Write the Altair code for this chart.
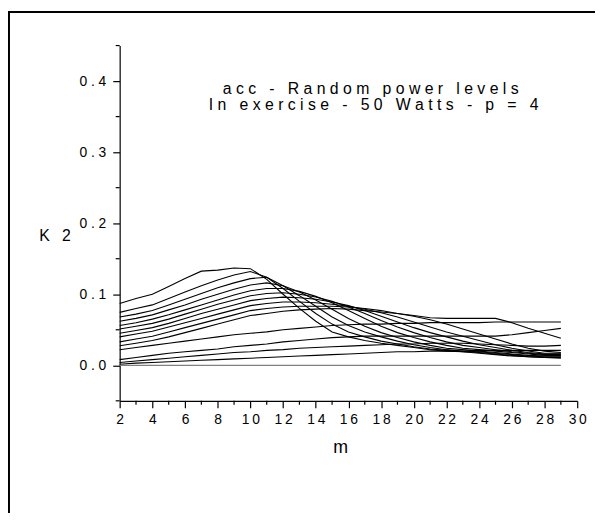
import altair as alt
import pandas as pd

m_values = list(range(2, 30))

U1 = [0.087,0.094,0.100,0.111,0.122,0.1325,0.134,0.137,0.136,0.121,0.100,0.080,0.062,0.047,0.040,0.035,0.031,0.028,0.025,0.022,0.020,0.019,0.017,0.015,0.013,0.012,0.011,0.010]
U2 = [0.0745,0.080,0.085,0.094,0.103,0.112,0.120,0.127,0.132,0.124,0.108,0.090,0.073,0.058,0.047,0.040,0.034,0.030,0.026,0.023,0.021,0.019,0.018,0.016,0.014,0.012,0.011,0.011]
U3 = [0.068,0.072,0.077,0.085,0.093,0.101,0.109,0.116,0.122,0.124,0.112,0.098,0.083,0.068,0.056,0.047,0.040,0.034,0.029,0.025,0.022,0.020,0.019,0.017,0.015,0.013,0.012,0.012]
U4 = [0.062,0.066,0.071,0.078,0.085,0.093,0.100,0.107,0.113,0.116,0.112,0.103,0.092,0.079,0.066,0.055,0.046,0.039,0.033,0.028,0.024,0.022,0.020,0.018,0.016,0.014,0.013,0.013]
U5 = [0.056,0.060,0.065,0.071,0.078,0.085,0.092,0.099,0.105,0.108,0.108,0.104,0.097,0.088,0.077,0.066,0.055,0.046,0.039,0.033,0.028,0.024,0.022,0.020,0.018,0.016,0.014,0.014]
U6 = [0.051,0.055,0.059,0.065,0.072,0.079,0.086,0.092,0.098,0.101,0.102,0.100,0.096,0.090,0.082,0.073,0.063,0.054,0.046,0.039,0.033,0.028,0.025,0.022,0.019,0.017,0.015,0.015]
U7 = [0.045,0.049,0.053,0.059,0.066,0.073,0.079,0.085,0.091,0.094,0.096,0.095,0.093,0.089,0.084,0.077,0.069,0.061,0.053,0.046,0.040,0.034,0.029,0.025,0.021,0.018,0.016,0.016]
U8 = [0.040,0.044,0.048,0.054,0.060,0.066,0.072,0.078,0.084,0.087,0.089,0.089,0.088,0.086,0.083,0.079,0.074,0.068,0.061,0.054,0.047,0.041,0.035,0.029,0.024,0.020,0.017,0.017]
U9 = [0.033,0.037,0.041,0.047,0.053,0.059,0.065,0.071,0.077,0.080,0.082,0.083,0.083,0.083,0.082,0.080,0.077,0.073,0.069,0.064,0.058,0.051,0.044,0.037,0.030,0.024,0.020,0.018]
U10 = [0.0275,0.031,0.035,0.040,0.046,0.052,0.058,0.064,0.070,0.073,0.076,0.078,0.079,0.080,0.079,0.077,0.075,0.073,0.070,0.067,0.066,0.066,0.066,0.066,0.060,0.052,0.045,0.038]
L1 = [0.022,0.025,0.028,0.031,0.034,0.037,0.040,0.043,0.045,0.047,0.050,0.052,0.054,0.056,0.057,0.058,0.058,0.059,0.059,0.060,0.060,0.060,0.060,0.061,0.061,0.061,0.061,0.061]
L2 = [0.008,0.011,0.014,0.017,0.019,0.021,0.023,0.026,0.028,0.030,0.033,0.035,0.037,0.039,0.040,0.041,0.041,0.041,0.041,0.041,0.041,0.041,0.041,0.041,0.043,0.046,0.049,0.052]
L3 = [0.004,0.006,0.008,0.010,0.012,0.014,0.016,0.018,0.019,0.021,0.022,0.024,0.025,0.026,0.027,0.028,0.029,0.030,0.030,0.031,0.031,0.031,0.030,0.029,0.028,0.027,0.027,0.028]
L4 = [0.0015,0.003,0.004,0.005,0.006,0.007,0.008,0.009,0.010,0.011,0.012,0.013,0.014,0.015,0.016,0.017,0.018,0.019,0.019,0.020,0.020,0.020,0.021,0.021,0.021,0.021,0.021,0.021]
Z0 = [0.0] * 28

series = {"U1": U1, "U2": U2, "U3": U3, "U4": U4, "U5": U5, "U6": U6, "U7": U7,
          "U8": U8, "U9": U9, "U10": U10, "L1": L1, "L2": L2, "L3": L3, "L4": L4}

title_lines = ["acc - Random power levels", "In exercise - 50 Watts - p = 4"]
y_major = [0.0, 0.1, 0.2, 0.3, 0.4]
y_minor = [-0.05, 0.05, 0.15, 0.25, 0.35, 0.45]
x_major = list(range(2, 31, 2))
x_minor = list(range(3, 30, 2))

rows = []
for name, vals in series.items():
    for m, v in zip(m_values, vals):
        rows.append({"series": name, "m": m, "k2": v})
df = pd.DataFrame(rows)
df_zero = pd.DataFrame({"m": m_values, "k2": Z0})

FONT = "Liberation Sans"
W, H = 463, 359.5


def spaced(s):
    return "\u00a0".join(s)


xscale = alt.Scale(domain=[2, 30], nice=False, zero=False)
yscale = alt.Scale(domain=[-0.05, 0.45], nice=False, zero=False)

x_axis = alt.Axis(
    values=x_major,
    labelExpr="length(datum.label) == 2 ? substring(datum.label, 0, 1) + '\u2009' + substring(datum.label, 1) : datum.label",
    tickSize=7, grid=False, labelOverlap=False, labelFlush=False, labelBound=False,
    labelFont=FONT, labelFontSize=14, labelColor="black", labelPadding=5,
    tickColor="black", tickWidth=1.2, domainColor="black", domainWidth=1.2,
    title="m", titleFont=FONT, titleFontSize=18, titleFontWeight="normal",
    titleColor="black", titleX=223, titleY=52, titleBaseline="alphabetic",
    titleAlign="center",
)

y_axis = alt.Axis(
    values=y_major, format=".1f",
    labelExpr="replace(datum.label, '.', ' . ')",
    tickSize=7, grid=False, labelOverlap=False, labelFlush=False, labelBound=False,
    labelFont=FONT, labelFontSize=14, labelColor="black", labelPadding=7,
    tickColor="black", tickWidth=1.2, domainColor="black", domainWidth=1.2,
    title="K\u2002\u00a02", titleFont=FONT, titleFontSize=16, titleFontWeight="normal",
    titleColor="black", titleAngle=0, titleX=-66, titleY=197,
    titleBaseline="alphabetic", titleAlign="center",
)

lines = alt.Chart(df).mark_line(color="black", strokeWidth=1.1, clip=False).encode(
    x=alt.X("m:Q", scale=xscale, axis=x_axis),
    y=alt.Y("k2:Q", scale=yscale, axis=y_axis),
    detail="series:N",
)

zero_line = alt.Chart(df_zero).mark_line(color="#808080", strokeWidth=1.3).encode(
    x=alt.X("m:Q", scale=xscale, axis=x_axis),
    y=alt.Y("k2:Q", scale=yscale, axis=y_axis),
)

y_minor_ticks = alt.Chart(pd.DataFrame({"k2": y_minor})).mark_rule(color="black", strokeWidth=1.2).encode(
    y=alt.Y("k2:Q", scale=yscale, axis=y_axis), x=alt.value(-4), x2=alt.value(0)
)
x_minor_ticks = alt.Chart(pd.DataFrame({"m": x_minor})).mark_rule(color="black", strokeWidth=1.2).encode(
    x=alt.X("m:Q", scale=xscale, axis=x_axis), y=alt.value(H), y2=alt.value(H + 4)
)

t1 = alt.Chart(pd.DataFrame({"t": [spaced(title_lines[0])]})).mark_text(
    font=FONT, fontSize=16, color="black", align="center", baseline="alphabetic"
).encode(x=alt.value(254), y=alt.value(48.7), text="t:N")

t2 = alt.Chart(pd.DataFrame({"t": [spaced(title_lines[1])]})).mark_text(
    font=FONT, fontSize=16, color="black", align="center", baseline="alphabetic"
).encode(x=alt.value(257), y=alt.value(65.3), text="t:N")

frame_left = alt.Chart(pd.DataFrame({"a": [0]})).mark_rule(color="black", strokeWidth=2).encode(
    x=alt.value(-112), y=alt.value(-35), y2=alt.value(490)
)
frame_top = alt.Chart(pd.DataFrame({"a": [0]})).mark_rule(color="black", strokeWidth=2).encode(
    x=alt.value(-113), x2=alt.value(490), y=alt.value(-34)
)

chart = alt.layer(lines, zero_line, y_minor_ticks, x_minor_ticks, t1, t2, frame_left, frame_top).properties(
    width=W,
    height=H,
    autosize=alt.AutoSizeParams(type="none"),
    padding={"left": 113, "top": 35, "right": 18, "bottom": 110},
    background="white",
).configure_view(stroke=None).configure_axis(labelOverlap=False)

chart.save("out.html", embed_options={"renderer": "svg", "actions": False})
